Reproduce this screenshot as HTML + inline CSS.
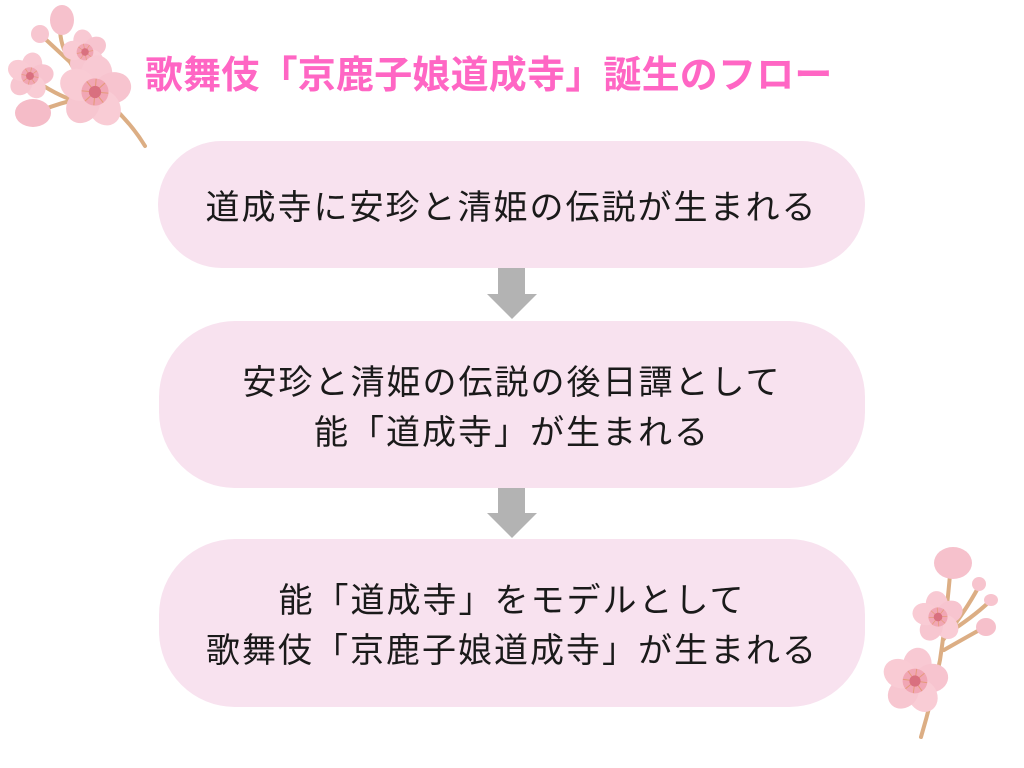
<!DOCTYPE html>
<html lang="ja">
<head>
<meta charset="UTF-8">
<style>
  html,body{margin:0;padding:0;background:#ffffff;}
  body{width:1024px;height:768px;position:relative;overflow:hidden;
       font-family:"Liberation Sans","Noto Sans CJK JP",sans-serif;}
  .title{position:absolute;left:145px;top:52px;height:48px;line-height:48px;
         font-size:38px;font-weight:700;color:#ff66c4;white-space:nowrap;letter-spacing:0.2px;}
  .box{position:absolute;background:#f8e2ef;display:flex;align-items:center;justify-content:center;
       text-align:center;color:#1a1a1a;font-size:34px;letter-spacing:2px;line-height:50px;font-weight:400;
       font-family:"Noto Sans CJK JP",sans-serif;}
  svg{position:absolute;left:0;top:0;}
</style>
</head>
<body>

<svg width="1024" height="768" viewBox="0 0 1024 768">
  <defs>
    <radialGradient id="pg" cx="50%" cy="100%" r="100%">
      <stop offset="0%" stop-color="#f2a9b8"/>
      <stop offset="60%" stop-color="#f8c8d2"/>
      <stop offset="100%" stop-color="#fbdde3"/>
    </radialGradient>
    <g id="fl">
      <ellipse cx="0" cy="-27" rx="23" ry="27" fill="#f8c9d3" transform="rotate(0)"/>
      <ellipse cx="0" cy="-27" rx="23" ry="27" fill="#f7c4cf" transform="rotate(72)"/>
      <ellipse cx="0" cy="-27" rx="23" ry="27" fill="#f9ccd5" transform="rotate(144)"/>
      <ellipse cx="0" cy="-27" rx="23" ry="27" fill="#f7c6d0" transform="rotate(216)"/>
      <ellipse cx="0" cy="-27" rx="23" ry="27" fill="#f9cbd4" transform="rotate(288)"/>
      <circle cx="0" cy="0" r="20" fill="#f1a6b4"/>
      <g stroke="#e59a7a" stroke-width="1.6" stroke-linecap="round">
        <line x1="0" y1="0" x2="0" y2="-19"/><line x1="0" y1="0" x2="13" y2="-14"/>
        <line x1="0" y1="0" x2="19" y2="0"/><line x1="0" y1="0" x2="13" y2="14"/>
        <line x1="0" y1="0" x2="0" y2="19"/><line x1="0" y1="0" x2="-13" y2="14"/>
        <line x1="0" y1="0" x2="-19" y2="0"/><line x1="0" y1="0" x2="-13" y2="-14"/>
      </g>
      <circle cx="0" cy="0" r="9" fill="#d9707f"/>
    </g>
  </defs>

  <!-- top-left branch -->
  <g stroke="#dcae84" stroke-width="4" stroke-linecap="round" fill="none">
    <path d="M145 146 Q128 118 100 96 Q78 78 70 62 Q60 45 60 28"/>
    <path d="M78 102 Q55 95 32 78"/>
    <path d="M70 101 Q50 106 34 114"/>
    <path d="M70 62 Q55 48 42 36"/>
  </g>
  <ellipse cx="62" cy="20" rx="12" ry="15" fill="#f6c1cc"/>
  <ellipse cx="40" cy="34" rx="9" ry="9" fill="#f7c6d0"/>
  <ellipse cx="33" cy="113" rx="18" ry="14" fill="#f5bcc8"/>
  <use href="#fl" transform="translate(30 76) scale(0.44) rotate(10)"/>
  <use href="#fl" transform="translate(85 52) scale(0.42) rotate(-10)"/>
  <use href="#fl" transform="translate(95 92) scale(0.68) rotate(5)"/>

  <!-- bottom-right branch -->
  <g stroke="#dcae84" stroke-width="4" stroke-linecap="round" fill="none">
    <path d="M921 737 Q932 700 940 660 Q946 620 950 575"/>
    <path d="M943 640 Q965 612 978 588"/>
    <path d="M945 635 Q972 618 989 602"/>
    <path d="M944 650 Q965 638 983 628"/>
  </g>
  <ellipse cx="953" cy="563" rx="19" ry="16" fill="#f6c1cc"/>
  <ellipse cx="979" cy="584" rx="7" ry="7" fill="#f7c4ce"/>
  <ellipse cx="991" cy="600" rx="7" ry="6" fill="#f7c4ce"/>
  <ellipse cx="986" cy="627" rx="10" ry="9" fill="#f6c0cb"/>
  <use href="#fl" transform="translate(938 617) scale(0.48) rotate(-5)"/>
  <use href="#fl" transform="translate(915 681) scale(0.62) rotate(8)"/>

  <!-- arrows -->
  <g fill="#b3b3b3">
    <rect x="498" y="268" width="27" height="27"/>
    <polygon points="487,294 537,294 512,319"/>
    <rect x="498" y="487" width="27" height="27"/>
    <polygon points="487,513 537,513 512,538"/>
  </g>
</svg>

<div class="title">歌舞伎「京鹿子娘道成寺」誕生のフロー</div>

<div class="box" style="left:158px;top:141px;width:707px;height:127px;border-radius:64px;">
  <div>道成寺に安珍と清姫の伝説が生まれる</div>
</div>

<div class="box" style="left:159px;top:321px;width:706px;height:167px;border-radius:76px;">
  <div>安珍と清姫の伝説の後日譚として<br>能「道成寺」が生まれる</div>
</div>

<div class="box" style="left:159px;top:539px;width:706px;height:168px;border-radius:76px;">
  <div>能「道成寺」をモデルとして<br>歌舞伎「京鹿子娘道成寺」が生まれる</div>
</div>

</body>
</html>
